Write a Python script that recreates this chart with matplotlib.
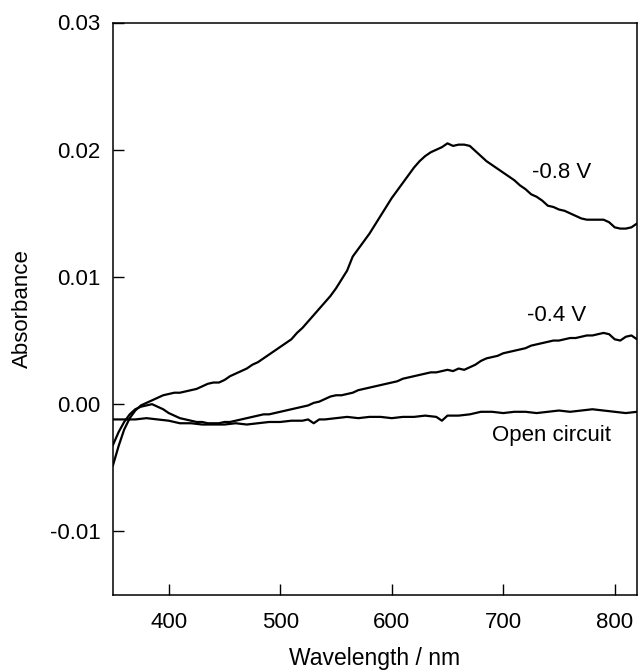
import matplotlib
matplotlib.use("Agg")
import matplotlib.pyplot as plt

plt.rcParams['font.family'] = ['Liberation Sans', 'DejaVu Sans']

wl_08 = [350, 355, 360, 365, 370, 375, 380, 385, 390, 395, 400, 405, 410, 415, 420, 425, 430, 435, 440, 445,
         450, 455, 460, 465, 470, 475, 480, 485, 490, 495, 500, 505, 510, 515, 520, 525, 530, 535, 540, 545,
         550, 555, 560, 565, 570, 575, 580, 585, 590, 595, 600, 605, 610, 615, 620, 625, 630, 635, 640, 645,
         650, 655, 660, 665, 670, 675, 680, 685, 690, 695, 700, 705, 710, 715, 720, 725, 730, 735, 740, 745,
         750, 755, 760, 765, 770, 775, 780, 785, 790, 795, 800, 805, 810, 815, 820]
abs_08 = [-0.0048, -0.0033, -0.0020, -0.0011, -0.0005, -0.0001, 0.0001, 0.0003, 0.0005, 0.0007,
          0.0008, 0.0009, 0.0009, 0.0010, 0.0011, 0.0012, 0.0014, 0.0016, 0.0017, 0.0017,
          0.0019, 0.0022, 0.0024, 0.0026, 0.0028, 0.0031, 0.0033, 0.0036, 0.0039, 0.0042,
          0.0045, 0.0048, 0.0051, 0.0056, 0.0060, 0.0065, 0.0070, 0.0075, 0.0080, 0.0085,
          0.0091, 0.0098, 0.0105, 0.0116, 0.0122, 0.0128, 0.0134, 0.0141, 0.0148, 0.0155,
          0.0162, 0.0168, 0.0174, 0.0180, 0.0186, 0.0191, 0.0195, 0.0198, 0.0200, 0.0202,
          0.0205, 0.0203, 0.0204, 0.0204, 0.0203, 0.0199, 0.0195, 0.0191, 0.0188, 0.0185,
          0.0182, 0.0179, 0.0176, 0.0172, 0.0169, 0.0165, 0.0163, 0.0160, 0.0156, 0.0155,
          0.0153, 0.0152, 0.0150, 0.0148, 0.0146, 0.0145, 0.0145, 0.0145, 0.0145, 0.0143,
          0.0139, 0.0138, 0.0138, 0.0139, 0.0142]

wl_04 = wl_08
abs_04 = [-0.0032, -0.0022, -0.0014, -0.0008, -0.0004, -0.0002, -0.0001, 0.0000, -0.0002, -0.0004,
          -0.0007, -0.0009, -0.0011, -0.0012, -0.0013, -0.0014, -0.0014, -0.0015, -0.0015, -0.0015,
          -0.0014, -0.0014, -0.0013, -0.0012, -0.0011, -0.0010, -0.0009, -0.0008, -0.0008, -0.0007,
          -0.0006, -0.0005, -0.0004, -0.0003, -0.0002, -0.0001, 0.0001, 0.0002, 0.0004, 0.0006,
          0.0007, 0.0007, 0.0008, 0.0009, 0.0011, 0.0012, 0.0013, 0.0014, 0.0015, 0.0016,
          0.0017, 0.0018, 0.0020, 0.0021, 0.0022, 0.0023, 0.0024, 0.0025, 0.0025, 0.0026,
          0.0027, 0.0026, 0.0028, 0.0027, 0.0029, 0.0031, 0.0034, 0.0036, 0.0037, 0.0038,
          0.0040, 0.0041, 0.0042, 0.0043, 0.0044, 0.0046, 0.0047, 0.0048, 0.0049, 0.0050,
          0.0050, 0.0051, 0.0052, 0.0052, 0.0053, 0.0054, 0.0054, 0.0055, 0.0056, 0.0055,
          0.0051, 0.0050, 0.0053, 0.0054, 0.0051]

wl_oc = [350, 360, 370, 380, 390, 400, 410, 420, 430, 440, 450, 460, 470, 480, 490, 500, 510, 520, 525,
         530, 535, 540, 550, 560, 570, 580, 590, 600, 610, 620, 630, 640, 645, 650, 660, 670, 680, 690,
         700, 710, 720, 730, 740, 750, 760, 770, 780, 790, 800, 810, 820]
abs_oc = [-0.0012, -0.0012, -0.0012, -0.0011, -0.0012, -0.0013, -0.0015, -0.0015, -0.0016, -0.0016,
          -0.0016, -0.0015, -0.0016, -0.0015, -0.0014, -0.0014, -0.0013, -0.0013, -0.0012,
          -0.0015, -0.0012, -0.0012, -0.0011, -0.0010, -0.0011, -0.0010, -0.0010, -0.0011, -0.0010,
          -0.0010, -0.0009, -0.0010, -0.0013, -0.0009, -0.0009, -0.0008, -0.0006, -0.0006,
          -0.0007, -0.0006, -0.0006, -0.0007, -0.0006, -0.0005, -0.0006, -0.0005, -0.0004, -0.0005,
          -0.0006, -0.0007, -0.0006]

labels = ["-0.8 V", "-0.4 V", "Open circuit"]
label_pos = [(752, 0.0182), (747.5, 0.0070), (743, -0.0025)]

x_ticks = [400, 500, 600, 700, 800]
y_ticks = [-0.01, 0.00, 0.01, 0.02, 0.03]
y_ticklabels = ["-0.01", "0.00", "0.01", "0.02", "0.03"]

fig = plt.figure(figsize=(6.38, 6.70), dpi=100)
ax = fig.add_axes([113 / 638, 1 - 595 / 670, 524 / 638, 572.5 / 670])

for wl, a in [(wl_08, abs_08), (wl_04, abs_04), (wl_oc, abs_oc)]:
    ax.plot(wl, a, color='black', lw=1.6)

for lab, (x, y) in zip(labels, label_pos):
    ax.text(x, y, lab, ha='center', va='center', fontsize=16)

ax.set_xlim(350, 820)
ax.set_ylim(-0.015, 0.03)
ax.set_xticks(x_ticks)
ax.set_yticks(y_ticks)
ax.set_yticklabels(y_ticklabels)
ax.tick_params(direction='in', length=8, width=1, labelsize=16, top=False, right=False)
ax.tick_params(axis='x', pad=12)
ax.tick_params(axis='y', pad=9)
for s in ax.spines.values():
    s.set_linewidth(1.1)

ax.set_xlabel("Wavelength / nm", fontsize=16.5, labelpad=10)
ax.set_ylabel("Absorbance", fontsize=16, labelpad=12)

fig.savefig("out.png", dpi=100)
